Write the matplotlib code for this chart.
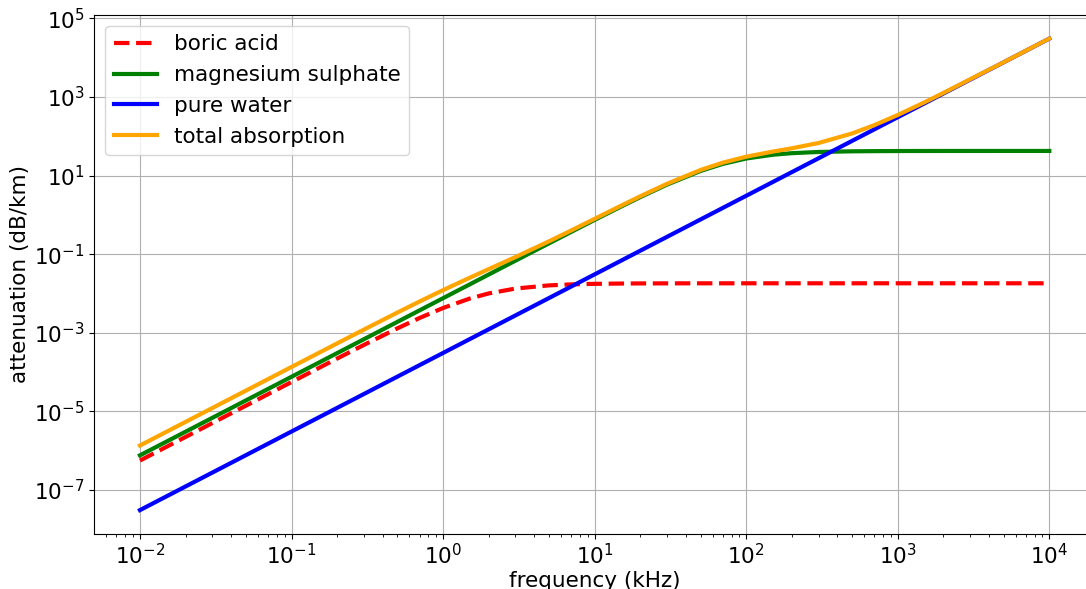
import matplotlib
matplotlib.use("Agg")
import matplotlib.pyplot as plt

# frequency samples (kHz)
freq_khz = [0.01, 0.1, 0.2, 0.3, 0.5, 0.7, 1, 1.5, 2, 3, 5, 7, 10, 15, 20, 30,
            50, 70, 100, 150, 200, 300, 500, 700, 1000, 1500, 2000, 5000, 10000]

# attenuation values (dB/km)
boric_acid = [5.60e-7, 5.58e-5, 2.213e-4, 4.904e-4, 1.300e-3, 2.384e-3, 4.282e-3,
              7.445e-3, 1.0041e-2, 1.3371e-2, 1.6106e-2, 1.7068e-2, 1.7627e-2,
              1.7941e-2, 1.8053e-2, 1.8134e-2, 1.8176e-2, 1.8188e-2, 1.8194e-2,
              1.8197e-2, 1.8199e-2, 1.82e-2, 1.82e-2, 1.82e-2, 1.82e-2, 1.82e-2,
              1.82e-2, 1.82e-2, 1.82e-2]
magnesium_sulphate = [7.60e-7, 7.60e-5, 3.041e-4, 6.843e-4, 1.9007e-3, 3.7254e-3,
                      7.601e-3, 1.7100e-2, 3.039e-2, 6.832e-2, 0.18922, 0.36930,
                      0.74692, 1.6444, 2.8381, 5.8937, 13.134, 19.852, 27.261,
                      34.042, 37.289, 40.015, 41.571, 42.021, 42.264, 42.395,
                      42.441, 42.49, 42.498]
pure_water = [3.07e-8, 3.07e-6, 1.228e-5, 2.763e-5, 7.675e-5, 1.504e-4, 3.07e-4,
              6.908e-4, 1.228e-3, 2.763e-3, 7.675e-3, 1.5043e-2, 3.07e-2,
              6.9075e-2, 0.1228, 0.2763, 0.7675, 1.5043, 3.07, 6.9075, 12.28,
              27.63, 76.75, 150.43, 307.0, 690.75, 1228.0, 7675.0, 30700.0]
total_absorption = [1.351e-6, 1.349e-4, 5.377e-4, 1.2023e-3, 3.278e-3, 6.259e-3,
                    1.219e-2, 2.5236e-2, 4.166e-2, 8.445e-2, 0.21301, 0.40141,
                    0.79525, 1.7314, 2.9790, 6.1881, 13.920, 21.374, 30.349,
                    40.968, 49.587, 67.663, 118.34, 192.47, 349.28, 733.16,
                    1270.5, 7717.5, 30742.5]

series_labels = ["boric acid", "magnesium sulphate", "pure water", "total absorption"]

FS = 15.5

fig = plt.figure(figsize=(10.86, 5.89), dpi=100)
ax = fig.add_axes([0.087, 0.0939, 1.0081 - 0.087, 0.9745 - 0.0939])

ax.plot(freq_khz, boric_acid, color="red", linestyle="--", linewidth=3, label=series_labels[0])
ax.plot(freq_khz, magnesium_sulphate, color="green", linewidth=3, label=series_labels[1])
ax.plot(freq_khz, pure_water, color="blue", linewidth=3, label=series_labels[2])
ax.plot(freq_khz, total_absorption, color="orange", linewidth=3, label=series_labels[3])

ax.set_xscale("log")
ax.set_yscale("log")
ax.grid(True, which="major")
ax.set_xlabel("frequency (kHz)", fontsize=FS, labelpad=2)
ax.set_ylabel("attenuation (dB/km)", fontsize=FS, labelpad=3)
ax.tick_params(axis="both", which="major", labelsize=FS)
ax.legend(loc="upper left", fontsize=FS)

fig.savefig("out.png", dpi=100)
